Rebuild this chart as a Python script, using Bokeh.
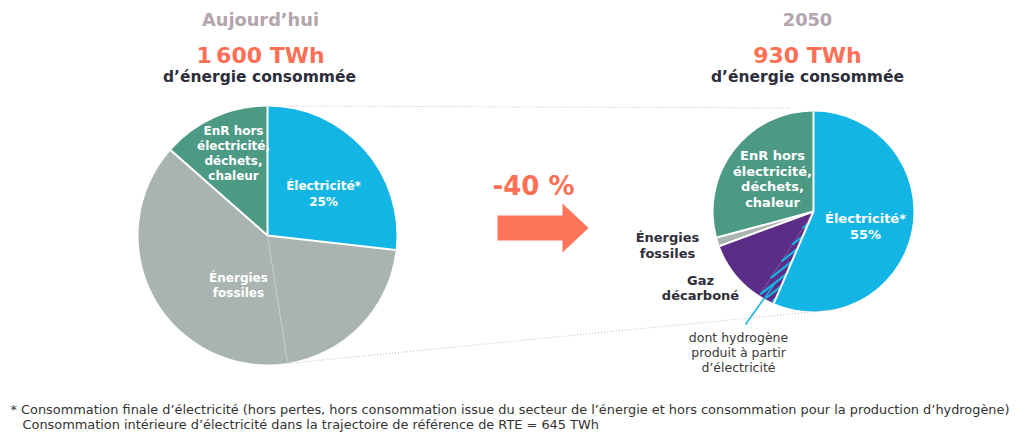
import numpy as np
from bokeh.plotting import figure
from bokeh.models import Range1d
from bokeh.core.properties import value
from bokeh.embed import file_html
from bokeh.resources import INLINE

# ---------------- data ----------------
period_titles = ["Aujourd’hui", "2050"]
total_labels = ["1\u202f600 TWh", "930 TWh"]
subtitle = "d’énergie consommée"
change_label = "-40 %"

# left pie, clockwise from 12 o'clock (shares in % of the drawn circle)
left_cats = ["Électricité", "Énergies fossiles (a)", "Énergies fossiles (b)", "EnR"]
left_shares = [26.8, 20.7, 39.0, 13.5]
# right pie, clockwise from 12 o'clock
right_cats = ["Électricité", "Hydrogène", "Gaz décarboné", "Énergies fossiles", "EnR"]
right_shares = [56.5, 2.6, 10.3, 1.4, 29.2]

footnote_lines = [
    "* Consommation finale d’électricité (hors pertes, hors consommation issue du secteur de l’énergie et hors consommation pour la production d’hydrogène)",
    "Consommation intérieure d’électricité dans la trajectoire de référence de RTE = 645 TWh",
]
hydrogen_note = ["dont hydrogène", "produit à partir", "d’électricité"]

# ---------------- style ----------------
BLUE = "#12b5e3"
GREEN = "#4c9a84"
GRAY = "#a9b4b1"
PURPLE = "#5b2d86"
ORANGE = "#ff6f55"
MAUVE = "#b3a4ad"
DARK = "#2e2e3a"
FONT = value("DejaVu Sans")

W, H = 1029, 436


def sx(x):
    return x


def sy(y):
    return H - y


p = figure(width=W, height=H, output_backend="svg", toolbar_location=None,
           x_range=Range1d(0, W), y_range=Range1d(0, H), min_border=0)
p.axis.visible = False
p.grid.visible = False
p.outline_line_color = None
p.background_fill_color = "white"


def angles(shares):
    cum = np.concatenate([[0], np.cumsum(shares)])
    tot = cum[-1]
    ends = np.pi / 2 - 2 * np.pi * cum[:-1] / tot
    starts = np.pi / 2 - 2 * np.pi * cum[1:] / tot
    return starts, ends


def pie(cx, cy, r, shares, colors):
    starts, ends = angles(shares)
    for i in range(len(shares)):
        p.wedge(x=[sx(cx)], y=[sy(cy)], radius=r, start_angle=starts[i], end_angle=ends[i],
                fill_color=colors[i], line_color=None)
    return starts, ends


def separators(cx, cy, r, ends, seps):
    for a, (col, w) in zip(ends, seps):
        if col is None:
            continue
        p.segment(x0=[sx(cx)], y0=[sy(cy)], x1=[sx(cx) + r * np.cos(a)], y1=[sy(cy) + r * np.sin(a)],
                  line_color=col, line_width=w)


def stripes(cx, cy, r, a0, a1, spacing, theta_deg, color, width):
    c = np.array([sx(cx), sy(cy)], dtype=float)
    th = np.radians(theta_deg)
    d = np.array([np.cos(th), np.sin(th)])
    n = np.array([-np.sin(th), np.cos(th)])
    u0 = np.array([np.cos(a0), np.sin(a0)])
    u1 = np.array([np.cos(a1), np.sin(a1)])

    def cross(a, b):
        return a[0] * b[1] - a[1] * b[0]

    xs0, ys0, xs1, ys1 = [], [], [], []
    kmax = int(r / spacing) + 1
    for k in range(-kmax, kmax + 1):
        s = k * spacing
        if abs(s) >= r:
            continue
        h = np.sqrt(r * r - s * s)
        lo, hi = -h, h
        for (A, B) in [(s * cross(u0, n), cross(u0, d)), (s * cross(n, u1), cross(d, u1))]:
            if abs(B) < 1e-12:
                if A < 0:
                    lo, hi = 1, 0
            elif B > 0:
                lo = max(lo, -A / B)
            else:
                hi = min(hi, -A / B)
        if lo < hi:
            p0 = c + s * n + lo * d
            p1 = c + s * n + hi * d
            xs0.append(p0[0]); ys0.append(p0[1]); xs1.append(p1[0]); ys1.append(p1[1])
    p.segment(x0=xs0, y0=ys0, x1=xs1, y1=ys1, line_color=color, line_width=width)


# left pie
LCX, LCY, LR = 267, 235, 129
ls, le = pie(LCX, LCY, LR, left_shares, [BLUE, GRAY, GRAY, GREEN])
separators(LCX, LCY, LR, le, [("white", 2), ("white", 2), ("#c4cbc9", 1), ("white", 2)])

# right pie
RCX, RCY, RR = 813, 211, 100
rs, re_ = pie(RCX, RCY, RR, right_shares, [BLUE, PURPLE, PURPLE, GRAY, GREEN])
stripes(RCX, RCY, RR - 1, rs[1], re_[1], 6.5, 38, BLUE, 2.2)
separators(RCX, RCY, RR, re_, [("white", 2), ("white", 2), (None, 0), ("white", 2), ("white", 2)])

# dotted connectors
p.line([sx(287), sx(790)], [sy(105.5), sy(107.5)], line_color="#c9b9bd", line_width=1, line_dash="1 2")
p.line([sx(287), sx(835)], [sy(363), sy(309)], line_color="#c9b9bd", line_width=1, line_dash="1 2")

# callout from the hydrogen wedge
amid = (rs[1] + re_[1]) / 2
p.segment(x0=[sx(RCX) + 0.8 * RR * np.cos(amid)], y0=[sy(RCY) + 0.8 * RR * np.sin(amid)],
          x1=[sx(745)], y1=[sy(324)], line_color=BLUE, line_width=1.5)


def txt(x, y, s, size, color, bold=True, align="center"):
    p.text(x=[sx(x)], y=[sy(y)], text=[s], text_font=FONT, text_font_size=size,
           text_font_style="bold" if bold else "normal", text_color=color,
           text_align=align, text_baseline="middle")


def block(x, y0, lines, size, color, step, bold=True):
    for k, s in enumerate(lines):
        txt(x, y0 + k * step, s, size, color, bold)


# headers
txt(260, 19, period_titles[0], "17.8px", MAUVE)
txt(260, 55, total_labels[0], "22px", ORANGE)
txt(259, 76, subtitle, "15.5px", DARK)
txt(807, 19, period_titles[1], "17.8px", MAUVE)
txt(807, 55, total_labels[1], "22px", ORANGE)
txt(807, 76, subtitle, "15.5px", DARK)

# left pie labels
block(233, 130, ["EnR hors", "électricité,", "déchets,", "chaleur"], "12px", "white", 15.2)
block(323, 185, ["Électricité*", "25%"], "12px", "white", 16)
block(238, 277, ["Énergies", "fossiles"], "12px", "white", 15)

# right pie labels
block(772, 155, ["EnR hors", "électricité,", "déchets,", "chaleur"], "13px", "white", 15.5)
block(865, 218, ["Électricité*", "55%"], "13px", "white", 15.5)
block(667, 237, ["Énergies", "fossiles"], "13px", DARK, 16)
block(700, 280, ["Gaz", "décarboné"], "13px", DARK, 14.5)
block(738, 337, hydrogen_note, "12.5px", "#3a3a3a", 15, bold=False)

# change arrow
txt(533, 185, change_label, "26px", ORANGE)
ax0, ay = 497, 227.5
arrow_x = [ax0, ax0 + 65, ax0 + 65, ax0 + 91, ax0 + 65, ax0 + 65, ax0]
arrow_y = [ay - 12.5, ay - 12.5, ay - 24.5, ay, ay + 24.5, ay + 12.5, ay + 12.5]
p.patch([sx(v) for v in arrow_x], [sy(v) for v in arrow_y], fill_color="#ff7559", line_color=None)

# footnote
txt(10, 409, footnote_lines[0], "12.9px", "#333333", bold=False, align="left")
txt(22, 424, footnote_lines[1], "12.9px", "#333333", bold=False, align="left")

open("out.html", "w").write(file_html(p, INLINE))
